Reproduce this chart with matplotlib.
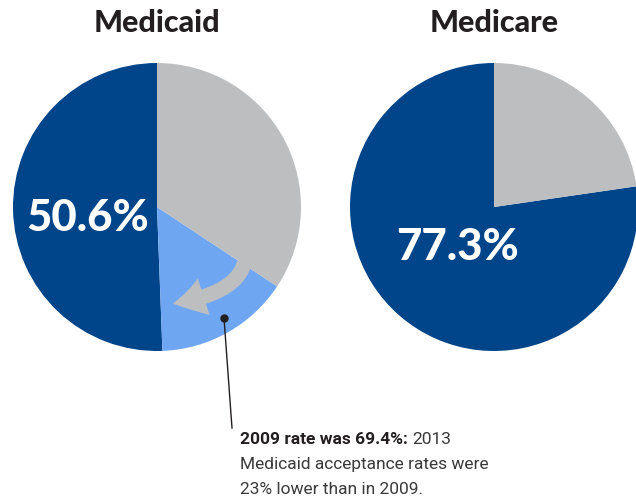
import matplotlib.pyplot as plt
from matplotlib.patches import FancyArrowPatch

# Dados (leitura da figura)
medicaid_rotulos = ['2013', 'Queda desde 2009', 'Restante']
medicaid_valores = [50.6, 15.1, 34.3]
medicare_rotulos = ['2013', 'Restante']
medicare_valores = [77.3, 22.7]
titulos = ['Medicaid', 'Medicare']
rotulos_pct = ['50.6%', '77.3%']

azul_escuro = '#00448A'
azul_claro = '#6FA6F2'
cinza = '#BCBEC0'

fig = plt.figure(figsize=(6.36, 5.01), dpi=100)
ax = fig.add_axes([0, 0, 1, 1])

# Pizzas (eixo y invertido: startangle 270 e sentido horário = topo, anti-horário na tela)
ax.pie(medicaid_valores, colors=[azul_escuro, azul_claro, cinza], startangle=270,
       counterclock=False, center=(157, 207), radius=144, frame=True,
       wedgeprops=dict(linewidth=0))
ax.pie(medicare_valores, colors=[azul_escuro, cinza], startangle=270,
       counterclock=False, center=(494, 207), radius=144, frame=True,
       wedgeprops=dict(linewidth=0))
ax.set_xlim(0, 636)
ax.set_ylim(501, 0)
ax.set_aspect('equal')
ax.axis('off')

fonte_titulo = ['Lato', 'DejaVu Sans']

# Títulos
ax.text(157, 23, titulos[0], ha='center', va='center', fontsize=22,
        fontweight='black', color='#231F20', family=fonte_titulo)
ax.text(494, 23, titulos[1], ha='center', va='center', fontsize=22,
        fontweight='black', color='#231F20', family=fonte_titulo)

# Percentuais
ax.text(88, 218, rotulos_pct[0], ha='center', va='center', fontsize=31.5,
        fontweight='black', color='white', family=fonte_titulo)
ax.text(457, 247, rotulos_pct[1], ha='center', va='center', fontsize=31.5,
        fontweight='black', color='white', family=fonte_titulo)

# Seta curva cinza
seta = FancyArrowPatch((245, 260), (170, 304), connectionstyle='angle3,angleA=-100,angleB=8',
                       arrowstyle='simple,head_width=2.3,head_length=1.9,tail_width=0.9',
                       mutation_scale=12, color=cinza, linewidth=0)
ax.add_patch(seta)

# Linha de chamada
ax.plot([224, 232], [318, 428], color='#231F20', linewidth=1)
ax.plot(224, 318, 'o', color='#231F20', markersize=5)

# Texto da anotação
fonte_nota = 'Roboto'
t1 = ax.text(240, 440, '2009 rate was 69.4%:', ha='left', va='center', fontsize=12.5,
             fontweight='bold', color='#231F20', family=fonte_nota)
fig.canvas.draw()
bb = t1.get_window_extent()
x_fim = ax.transData.inverted().transform((bb.x1, bb.y0))[0]
ax.text(x_fim + 4, 440, '2013', ha='left', va='center', fontsize=12.5,
        color='#3A3A3A', family=fonte_nota)
ax.text(240, 465, 'Medicaid acceptance rates were', ha='left', va='center',
        fontsize=12.5, color='#3A3A3A', family=fonte_nota)
ax.text(240, 490, '23% lower than in 2009.', ha='left', va='center',
        fontsize=12.5, color='#3A3A3A', family=fonte_nota)

plt.savefig('out.png', dpi=100)
